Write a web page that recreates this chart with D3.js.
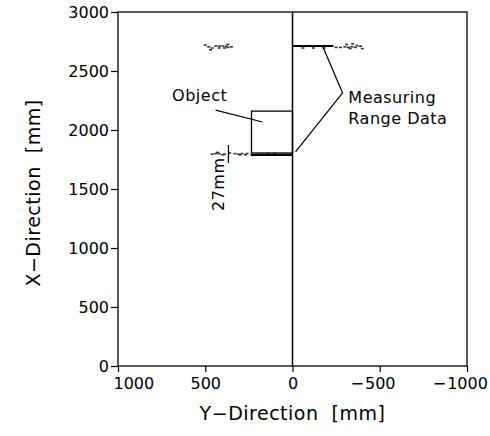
<!DOCTYPE html>
<html>
<head>
<meta charset="utf-8">
<script src="https://cdn.jsdelivr.net/npm/d3@7"></script>
<style>
  body { margin: 0; background: #fff; }
  text { font-family: "DejaVu Sans", sans-serif; fill: #000; white-space: pre; }
</style>
</head>
<body>
<svg id="chart" width="490" height="436"></svg>
<script>
// ticks (mm)
const yDirTicks = [1000, 500, 0, -500, -1000];
const xDirTicks = [0, 500, 1000, 1500, 2000, 2500, 3000];

// object box: [Y, X] corners
const objectBox = { y0: 0, y1: 235, x0: 1805, x1: 2160 };

// measured range lines [Y1, Y2, X]
const rangeLines = [
  [0, -235, 2712],
  [0, 240, 1790]
];

// scattered measuring points [Y, X]
const topRightPts = [[-60, 2695], [-120, 2695], [-180, 2695], [-250, 2700], [-275, 2700], [-300, 2705],
  [-320, 2700], [-340, 2705], [-360, 2700], [-310, 2725], [-345, 2730], [-370, 2715], [-390, 2710],
  [-400, 2690], [-330, 2690]];
const topLeftPts = [[500, 2720], [480, 2705], [440, 2712], [420, 2712], [400, 2712], [380, 2710],
  [460, 2695], [420, 2695], [390, 2695], [370, 2700], [370, 2725], [470, 2680], [350, 2705]];
const objectPts = [[260, 1800], [290, 1800], [310, 1795], [330, 1800], [360, 1805], [390, 1795],
  [420, 1800], [440, 1800], [460, 1795], [270, 1790], [300, 1790], [400, 1790], [430, 1810],
  [100, 1805], [140, 1805], [180, 1800], [60, 1800]];

// 27mm marker
const markerY = 367;
const markerX = [1720, 1873];

const svg = d3.select('#chart');
const margin = { top: 12, right: 23, bottom: 70, left: 118 };
const W = 490, H = 436;

/// scales: Y-direction runs right to left
const x = d3.scaleLinear().domain([1000, -1000]).range([margin.left, W - margin.right]);
const y = d3.scaleLinear().domain([0, 3000]).range([H - margin.bottom, margin.top]);

// frame
svg.append('rect')
  .attr('x', x(1000)).attr('y', y(3000))
  .attr('width', x(-1000) - x(1000)).attr('height', y(0) - y(3000))
  .attr('fill', 'none').attr('stroke', '#000').attr('stroke-width', 1.3);

// axes
const ax = svg.append('g').attr('transform', `translate(0,${y(0)})`)
  .call(d3.axisBottom(x).tickValues(yDirTicks).tickSize(6).tickPadding(6)
    .tickFormat(d => Math.abs(d)));
const ay = svg.append('g').attr('transform', `translate(${x(1000)},0)`)
  .call(d3.axisLeft(y).tickValues(xDirTicks).tickSize(7).tickPadding(2).tickFormat(d3.format('d')));
[ax, ay].forEach(g => {
  g.select('.domain').remove();
  g.selectAll('line').attr('stroke', '#000').attr('stroke-width', 1.2);
  g.selectAll('text').style('font-size', '16px')
    .style('font-family', '"DejaVu Sans", sans-serif');
});
// digits centred on tick, minus sign hanging to the left
ax.selectAll('.tick').each(function (d) {
  const t = d3.select(this).select('text');
  if (d === 1000) t.attr('text-anchor', 'start').attr('x', -5);
  if (d < 0) {
    const w = t.node().getComputedTextLength();
    d3.select(this).append('text')
      .attr('x', -w / 2 - 1).attr('y', t.attr('y')).attr('dy', t.attr('dy'))
      .attr('text-anchor', 'end').style('font-size', '16px')
      .text('\u2212');
  }
});

// centre line Y = 0
svg.append('line')
  .attr('x1', x(0)).attr('x2', x(0)).attr('y1', y(0)).attr('y2', y(3000))
  .attr('stroke', '#000').attr('stroke-width', 1.5);

// object
svg.append('rect')
  .attr('x', x(objectBox.y1)).attr('y', y(objectBox.x1))
  .attr('width', x(objectBox.y0) - x(objectBox.y1))
  .attr('height', y(objectBox.x0) - y(objectBox.x1))
  .attr('fill', 'none').attr('stroke', '#000').attr('stroke-width', 1.3);

// range lines
svg.selectAll('line.range').data(rangeLines).join('line')
  .attr('class', 'range')
  .attr('x1', d => x(d[0])).attr('x2', d => x(d[1]))
  .attr('y1', d => y(d[2])).attr('y2', d => y(d[2]))
  .attr('stroke', '#000').attr('stroke-width', 2.2);

// scattered points as short dashes
svg.append('g').selectAll('rect')
  .data(topRightPts.concat(topLeftPts, objectPts)).join('rect')
  .attr('x', d => x(d[0]) - 1.5).attr('y', d => y(d[1]) - 0.8)
  .attr('width', 3).attr('height', 1.6)
  .attr('fill', '#333');

// 27mm marker
svg.append('line')
  .attr('x1', x(markerY)).attr('x2', x(markerY))
  .attr('y1', y(markerX[0])).attr('y2', y(markerX[1]))
  .attr('stroke', '#000').attr('stroke-width', 1.3);
svg.append('text')
  .attr('transform', `translate(${x(markerY) - 4},${y(1540)}) rotate(-90)`)
  .attr('text-anchor', 'middle')
  .style('font-size', '16px').style('letter-spacing', '0.5px')
  .text('27mm');

// annotations
svg.append('text').attr('x', x(690)).attr('y', y(2250))
  .style('font-size', '16px').style('letter-spacing', '0.5px').text('Object');
svg.append('line')
  .attr('x1', x(441)).attr('y1', y(2169)).attr('x2', x(172)).attr('y2', y(2068))
  .attr('stroke', '#000').attr('stroke-width', 1.2);

svg.append('polyline')
  .attr('points', [[-172, 2712], [-287, 2314], [-17, 1814]].map(d => [x(d[0]), y(d[1])].join(',')).join(' '))
  .attr('fill', 'none').attr('stroke', '#000').attr('stroke-width', 1.2);
svg.append('text').attr('x', x(-320)).attr('y', y(2225))
  .style('font-size', '16px').style('letter-spacing', '0.5px').text('Measuring');
svg.append('text').attr('x', x(-320)).attr('y', y(2050))
  .style('font-size', '16px').style('letter-spacing', '0.5px').text('Range Data');

// axis titles
svg.append('text')
  .attr('x', x(0)).attr('y', 420)
  .attr('text-anchor', 'middle')
  .style('font-size', '19px').style('letter-spacing', '0.5px')
  .text('Y\u2212Direction  [mm]');
svg.append('text')
  .attr('transform', `translate(40,193) rotate(-90)`)
  .attr('text-anchor', 'middle')
  .style('font-size', '19px').style('letter-spacing', '0.5px')
  .text('X\u2212Direction  [mm]');
</script>
</body>
</html>
